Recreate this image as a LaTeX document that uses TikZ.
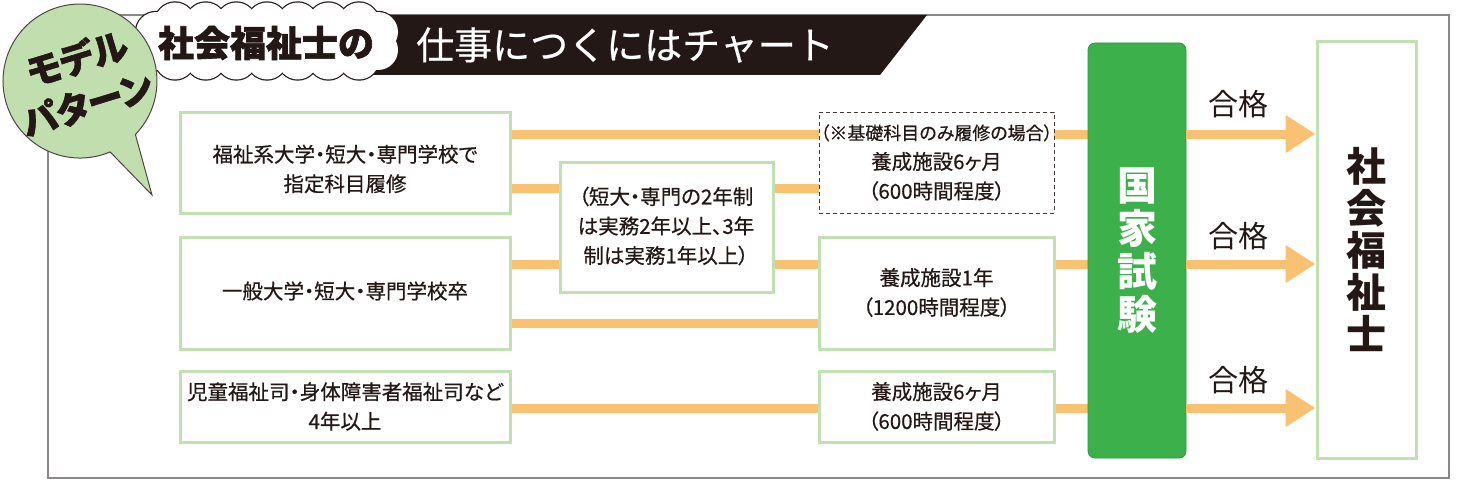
\documentclass[tikz,border=0pt]{standalone}
\usepackage{fontspec}
\usetikzlibrary{arrows.meta,backgrounds}
\newfontfamily\jp{Noto Sans CJK JP}
\newfontfamily\jpp[RawFeature=+palt,FakeBold=0.5,BoldFeatures={FakeBold=1.5}]{Noto Sans CJK JP}
\newfontfamily\jpb[BoldFeatures={FakeBold=1.8}]{Noto Sans CJK JP}
\definecolor{ink}{HTML}{231815}
\definecolor{lgreen}{HTML}{C2E1B3}
\definecolor{orng}{HTML}{F9C273}
\definecolor{grn}{HTML}{3BB04B}
\definecolor{grnline}{HTML}{2E9440}
\definecolor{badgeg}{HTML}{C1DFAE}
\definecolor{framegray}{HTML}{8B8787}
\begin{document}
\begin{tikzpicture}[x=1pt,y=-1pt,
  box/.style={draw=lgreen, line width=3pt, fill=white, inner sep=0pt, outer sep=0pt, anchor=north west},
  dbox/.style={draw=ink!85, line width=0.9pt, dash pattern=on 4pt off 3pt, fill=white, inner sep=0pt, outer sep=0pt, anchor=north west},
  txt/.style={text=ink, align=center, inner sep=0pt, font=\jpp\fontsize{20.5}{29.5}\selectfont},
  flow/.style={draw=orng, line width=9pt},
  pass/.style={draw=orng, line width=9pt, -{Triangle[length=30pt,width=36pt]}},
  passlbl/.style={text=ink, inner sep=0pt, font=\jp\fontsize{30}{31}\selectfont},
  badgetxt/.style={text=ink, inner sep=0pt, rotate=17, font=\jpp\bfseries\fontsize{36}{37}\selectfont}]
\useasboundingbox (0,0) rectangle (1459,487);
% outer frame
\draw[framegray, line width=2pt] (48,15) rectangle (1449,478);
% title banner
\fill[ink] (370,15) -- (927,15) -- (880,75) -- (370,75) -- cycle;
\node[text=white, inner sep=0pt, font=\jpp\fontsize{38}{40}\selectfont] (title2) at (625,45) {\addfontfeature{RawFeature=-palt}仕事につくにはチャート};
% cloud (scalloped outline)
\foreach \cx/\cy in {175/22.5,205.7/22.5,236.3/22.5,267/22.5,297.7/22.5,328.3/22.5,359/22.5,
  175/59.5,205.7/59.5,236.3/59.5,267/59.5,297.7/59.5,328.3/59.5,359/59.5,378/32,378/50,156/32,156/50}
  \draw[ink, line width=2.4pt] (\cx,\cy) circle[radius=20];
\foreach \cx/\cy in {175/22.5,205.7/22.5,236.3/22.5,267/22.5,297.7/22.5,328.3/22.5,359/22.5,
  175/59.5,205.7/59.5,236.3/59.5,267/59.5,297.7/59.5,328.3/59.5,359/59.5,378/32,378/50,156/32,156/50}
  \fill[white] (\cx,\cy) circle[radius=20];
\fill[white] (156,22.5) rectangle (378,59.5);
\node[text=ink, inner sep=0pt, font=\jpb\bfseries\fontsize{36}{38}\selectfont] (title1) at (266,43) {社会福祉士の};
% badge
\draw[draw=ink!80, line width=1pt, fill=badgeg] (110.1,151.9) arc[start angle=67, end angle=404, radius=77] -- (152,195) -- cycle;
\node[badgetxt] (bd1) at (77,58) {モデル};
\node[badgetxt] (bd2) at (87,104) {パターン};
% row coordinates
\coordinate (r1) at (0,134);
\coordinate (r2) at (0,188);
\coordinate (r3) at (0,264);
\coordinate (r4) at (0,323);
\coordinate (r5) at (0,408);
% boxes
\node[box, minimum width=330pt, minimum height=101pt] (A) at (180,112) {};
\node[box, minimum width=330pt, minimum height=112pt] (B) at (180,237) {};
\node[box, minimum width=330pt, minimum height=71pt] (C) at (180,371) {};
\node[box, minimum width=213pt, minimum height=130pt] (M) at (560,162) {};
\node[dbox, minimum width=235pt, minimum height=101pt] (D) at (819,112) {};
\node[box, minimum width=235pt, minimum height=112pt] (E) at (819,237) {};
\node[box, minimum width=235pt, minimum height=71pt] (F) at (819,371) {};
\node[draw=grnline, line width=0.8pt, fill=grn, rounded corners=7pt, minimum width=98pt, minimum height=415pt, inner sep=0pt, text=white, align=center, font=\jp\bfseries\fontsize{40}{43}\selectfont] (G) at (1137,250.5) {国\\家\\試\\験};
\node[draw=lgreen, line width=3pt, fill=white, minimum width=99pt, minimum height=416pt, inner sep=0pt, text=ink, align=center, font=\jp\bfseries\fontsize{40}{42}\selectfont] (S) at (1366.5,250) {社\\会\\福\\祉\\士};
% connectors
\begin{scope}[on background layer]
\draw[flow] (A.east |- r1) -- (D.west |- r1);
\draw[flow] (D.east |- r1) -- (G.west |- r1);
\draw[flow] (A.east |- r2) -- (M.west |- r2);
\draw[flow] (M.east |- r2) -- (D.west |- r2);
\draw[flow] (B.east |- r3) -- (M.west |- r3);
\draw[flow] (M.east |- r3) -- (E.west |- r3);
\draw[flow] (E.east |- r3) -- (G.west |- r3);
\draw[flow] (B.east |- r4) -- (E.west |- r4);
\draw[flow] (C.east |- r5) -- (F.west |- r5);
\draw[flow] (F.east |- r5) -- (G.west |- r5);
\end{scope}
\draw[pass] (G.east |- r1) -- (S.west |- r1);
\draw[pass] (G.east |- r3) -- (S.west |- r3);
\draw[pass] (G.east |- r5) -- (S.west |- r5);
\node[passlbl] (p1) at (1238,104) {合格};
\node[passlbl] (p2) at (1238,236) {合格};
\node[passlbl] (p3) at (1238,380) {合格};
% texts
\node[txt] (tA) at (345,169) {福祉系大学・短大・専門学校で\\指定科目履修};
\node[txt] (tB) at (345,291) {一般大学・短大・専門学校卒};
\node[txt] (tC) at (345,406.5) {児童福祉司・身体障害者福祉司など\\4年以上};
\node[txt] (tM) at (666,226) {（短大・専門の2年制\\は実務2年以上、3年\\制は実務1年以上）};
\node[txt] (tD) at (936.5,162.5) {{\fontsize{18}{29.5}\selectfont（※基礎科目のみ履修の場合）}\\養成施設6ヶ月\\（600時間程度）};
\node[txt] (tE) at (936.5,292.5) {養成施設1年\\（1200時間程度）};
\node[txt] (tF) at (936.5,406.5) {養成施設6ヶ月\\（600時間程度）};
\end{tikzpicture}
\end{document}
